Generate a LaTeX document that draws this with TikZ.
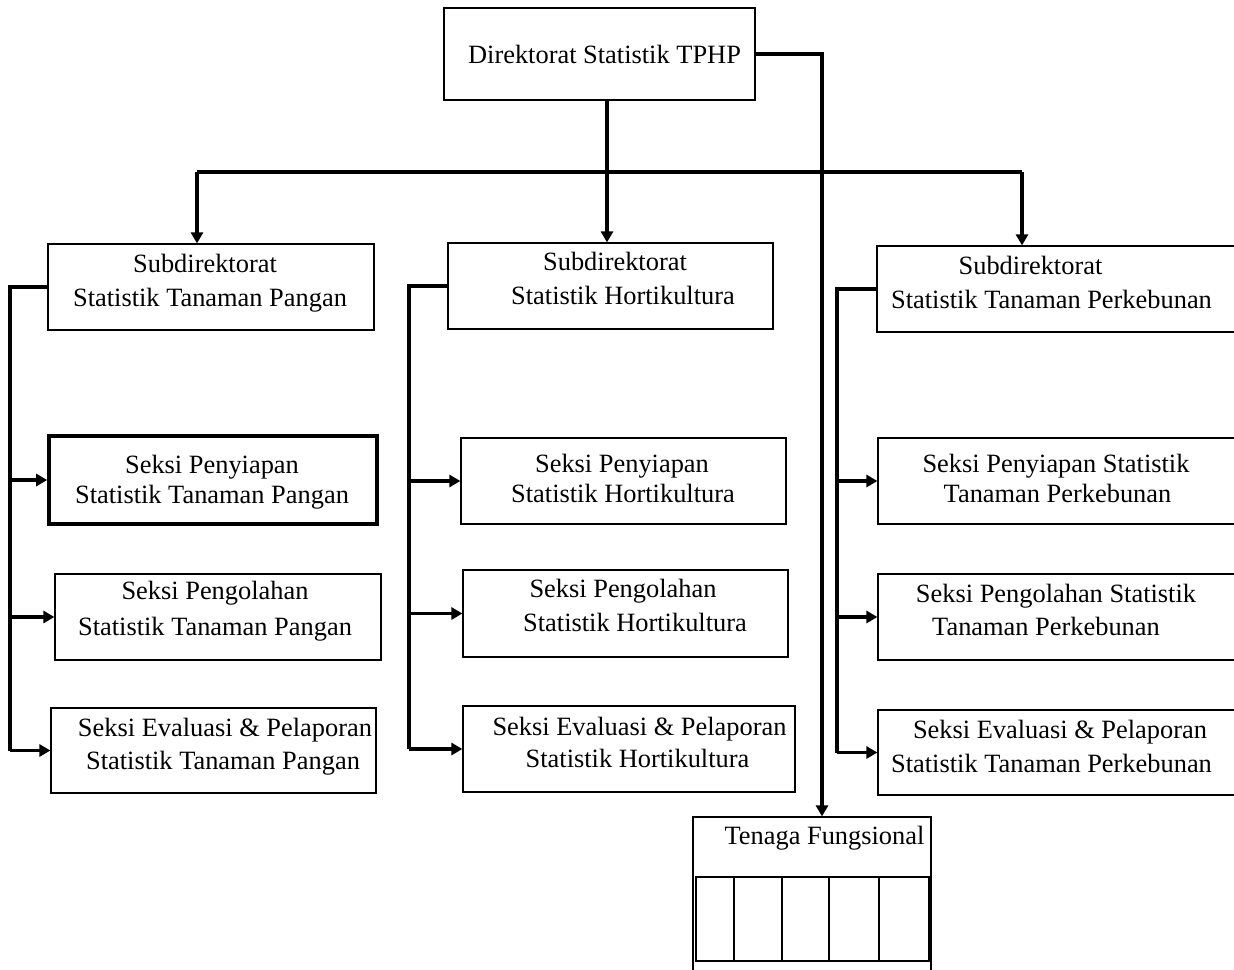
\documentclass[tikz,border=0pt]{standalone}
\usepackage{fontspec}
\setmainfont{Liberation Serif}
\usetikzlibrary{arrows.meta}

\tikzset{
  box/.style={draw, rectangle, line width=0.6pt, inner sep=0pt},
  boldbox/.style={box, line width=1.8pt},
  conn/.style={line width=1.6pt},
  toarrow/.style={-{Triangle[length=5.5pt, width=6pt]}},
  lbl/.style={anchor=base, inner sep=0pt}
}

\begin{document}
\begin{tikzpicture}[x=0.5pt, y=-0.5pt, font=\fontsize{13.2}{16}\selectfont]
  \useasboundingbox (0,0) rectangle (1234,969);
  \clip (0,0) rectangle (1234,969);

  % direktorat
  \node[box, minimum width=155.5pt, minimum height=46pt] (dir) at (599.5,54) {};
  \node[lbl] (dirT) at (604.5,63) {Direktorat Statistik TPHP};

  % subdirektorat boxes
  \node[box, minimum width=163pt, minimum height=43pt] (subA) at (211,287) {};
  \node[box, minimum width=162.5pt, minimum height=43pt] (subB) at (610.5,286) {};
  \node[box, minimum width=186.5pt, minimum height=43pt] (subC) at (1063.5,289) {};
  \node[lbl] (subAa) at (205,272) {Subdirektorat};
  \node[lbl] (subAb) at (210,306) {Statistik Tanaman Pangan};
  \node[lbl] (subBa) at (615,270) {Subdirektorat};
  \node[lbl] (subBb) at (623,304) {Statistik Hortikultura};
  \node[lbl] (subCa) at (1030.5,274) {Subdirektorat};
  \node[lbl] (subCb) at (1051.5,308) {Statistik Tanaman Perkebunan};

  % seksi, tanaman pangan
  \node[boldbox, minimum width=164pt, minimum height=44pt] (seksiA1) at (213,480) {};
  \node[box, minimum width=163pt, minimum height=43pt] (seksiA2) at (218,617) {};
  \node[box, minimum width=162.5pt, minimum height=42.5pt] (seksiA3) at (213.5,750.5) {};
  \node[lbl] (seksiA1a) at (212,473) {Seksi Penyiapan};
  \node[lbl] (seksiA1b) at (212,503) {Statistik Tanaman Pangan};
  \node[lbl] (seksiA2a) at (215,599) {Seksi Pengolahan};
  \node[lbl] (seksiA2b) at (215,635) {Statistik Tanaman Pangan};
  \node[lbl] (seksiA3a) at (225,736) {Seksi Evaluasi \& Pelaporan};
  \node[lbl] (seksiA3b) at (223,769) {Statistik Tanaman Pangan};

  % seksi, hortikultura
  \node[box, minimum width=162.5pt, minimum height=43pt] (seksiB1) at (623.5,481) {};
  \node[box, minimum width=162.5pt, minimum height=43.5pt] (seksiB2) at (625.5,613.5) {};
  \node[box, minimum width=166pt, minimum height=43pt] (seksiB3) at (629,749) {};
  \node[lbl] (seksiB1a) at (622,472) {Seksi Penyiapan};
  \node[lbl] (seksiB1b) at (623,502) {Statistik Hortikultura};
  \node[lbl] (seksiB2a) at (623,597) {Seksi Pengolahan};
  \node[lbl] (seksiB2b) at (635,631) {Statistik Hortikultura};
  \node[lbl] (seksiB3a) at (639.5,735) {Seksi Evaluasi \& Pelaporan};
  \node[lbl] (seksiB3b) at (637.5,767) {Statistik Hortikultura};

  % seksi, tanaman perkebunan
  \node[box, minimum width=186pt, minimum height=43pt] (seksiC1) at (1064,481) {};
  \node[box, minimum width=186pt, minimum height=43pt] (seksiC2) at (1064,617) {};
  \node[box, minimum width=186pt, minimum height=42.5pt] (seksiC3) at (1064,752.5) {};
  \node[lbl] (seksiC1a) at (1056,472) {Seksi Penyiapan Statistik};
  \node[lbl] (seksiC1b) at (1057.5,502) {Tanaman Perkebunan};
  \node[lbl] (seksiC2a) at (1056,602) {Seksi Pengolahan Statistik};
  \node[lbl] (seksiC2b) at (1046,635) {Tanaman Perkebunan};
  \node[lbl] (seksiC3a) at (1060,738) {Seksi Evaluasi \& Pelaporan};
  \node[lbl] (seksiC3b) at (1051.5,772) {Statistik Tanaman Perkebunan};

  % tenaga fungsional
  \node[box, minimum width=119pt, minimum height=86.5pt] (tenaga) at (812,903.5) {};
  \node[lbl] (tenagaT) at (824.5,844) {Tenaga Fungsional};
  \draw[line width=0.6pt] (696,877) rectangle (929,961);
  \foreach \x in {734, 782, 829, 879}
    \draw[line width=0.6pt] (\x,877) -- (\x,961);

  % top bus
  \coordinate (busL) at (197,172);
  \coordinate (busM) at (607,172);
  \coordinate (busR) at (1022,172);
  \draw[conn] (busL) -- (busR);
  \draw[conn, toarrow] (dir.south -| busM) -- (subB.north -| busM);
  \draw[conn, toarrow] (busL) -- (busL |- subA.north);
  \draw[conn, toarrow] (busR) -- (busR |- subC.north);

  % line to tenaga fungsional
  \coordinate (drop) at (822,54);
  \draw[conn, toarrow] (dir.east) -- (drop) -- (drop |- tenaga.north);

  % rails to the seksi boxes
  \coordinate (railA) at (10,287);
  \coordinate (railB) at (409,286);
  \coordinate (railC) at (837,289);
  \draw[conn] (subA.west) -- (railA) -- (railA |- seksiA3.west);
  \draw[conn] (subB.west) -- (railB) -- (railB |- seksiB3.west);
  \draw[conn] (subC.west) -- (railC) -- (railC |- seksiC3.west);
  \foreach \s in {seksiA1, seksiA2, seksiA3}
    \draw[conn, toarrow] (railA |- \s.west) -- (\s.west);
  \foreach \s in {seksiB1, seksiB2, seksiB3}
    \draw[conn, toarrow] (railB |- \s.west) -- (\s.west);
  \foreach \s in {seksiC1, seksiC2, seksiC3}
    \draw[conn, toarrow] (railC |- \s.west) -- (\s.west);
\end{tikzpicture}
\end{document}
